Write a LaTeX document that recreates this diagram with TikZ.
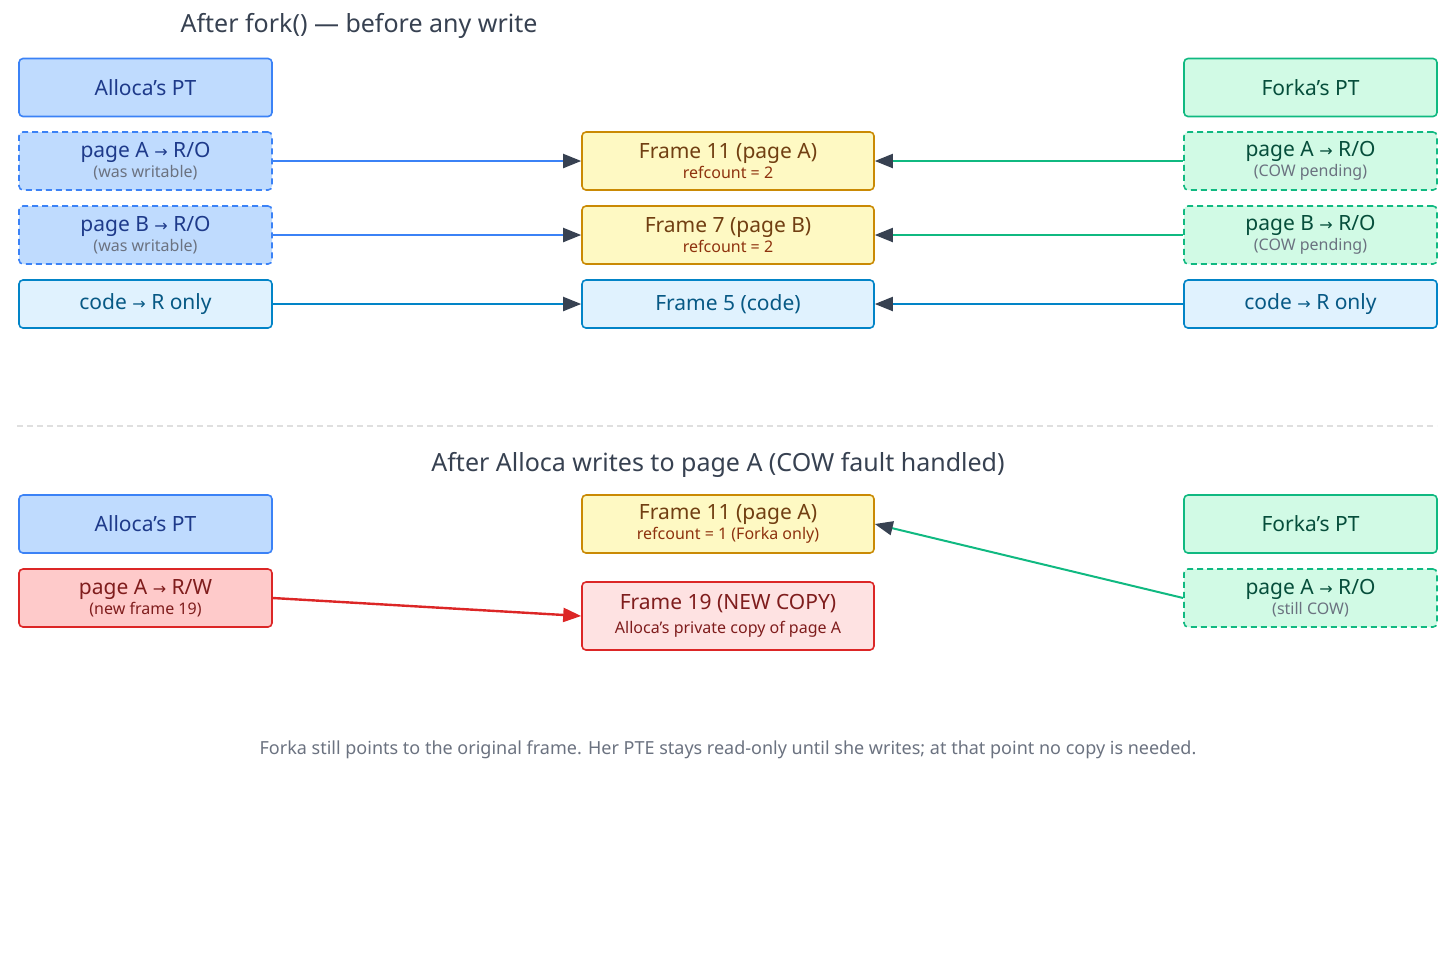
\documentclass[tikz,border=0pt]{standalone}
\usepackage{fontspec}
\setmainfont{Noto Sans}
\newfontfamily\djsans{DejaVu Sans}
\usetikzlibrary{arrows.meta}
\definecolor{bF}{HTML}{BFDBFE}\definecolor{bB}{HTML}{3B82F6}\definecolor{bT}{HTML}{1E3A8A}
\definecolor{gF}{HTML}{D1FAE5}\definecolor{gB}{HTML}{10B981}\definecolor{gT}{HTML}{064E3B}
\definecolor{yF}{HTML}{FEF9C3}\definecolor{yB}{HTML}{CA8A04}\definecolor{yT}{HTML}{713F12}
\definecolor{cF}{HTML}{E0F2FE}\definecolor{cB}{HTML}{0284C7}\definecolor{cT}{HTML}{075985}
\definecolor{rF}{HTML}{FECACA}\definecolor{rF2}{HTML}{FEE2E2}\definecolor{rB}{HTML}{DC2626}\definecolor{rT}{HTML}{7F1D1D}
\definecolor{sub}{HTML}{6B7280}\definecolor{dark}{HTML}{374151}\definecolor{ttl}{HTML}{374151}
\newcommand{\myarr}{{\djsans\footnotesize →}}
\newcommand{\smf}{\fontsize{8}{9}\selectfont}
\begin{document}
\begin{tikzpicture}[x=0.5pt,y=-0.5pt,
 box/.style={draw,rounded corners=2pt,line width=0.8pt,minimum width=126.5pt,minimum height=29pt,align=center,inner sep=0pt,font=\fontsize{10.5}{12}\selectfont},
 mid/.style={box,minimum width=146pt},
 blue/.style={fill=bF,draw=bB,text=bT},
 green/.style={fill=gF,draw=gB,text=gT},
 yel/.style={fill=yF,draw=yB,text=yT},
 cod/.style={fill=cF,draw=cB,text=cT,minimum height=24pt},
 red/.style={fill=rF,draw=rB,text=rT},
 dsh/.style={dash pattern=on 3pt off 2pt},
 hdr/.style={font=\bfseries\fontsize{10.5}{12}\selectfont},
 ttl/.style={text=ttl,font=\bfseries\fontsize{12.5}{14}\selectfont},
 con/.style={line width=1pt,-{Triangle[length=9pt,width=7pt,color=dark]}}]
\useasboundingbox (0,0) rectangle (1456,971);
\node[ttl] (t1) at (359,26) {After fork() — before any write};
\node[box,blue,hdr] (ah) at (145.5,87.5) {Alloca's PT};
\node[box,green,hdr] (fh) at (1310.5,87.5) {Forka's PT};
\node[box,blue,dsh] (aa) at (145.5,161) {page A \myarr{} R/O\\[-2pt]{\smf\color{sub}(was writable)}};
\node[box,blue,dsh] (ab) at (145.5,235) {page B \myarr{} R/O\\[-2pt]{\smf\color{sub}(was writable)}};
\node[box,cod] (ac) at (145.5,304) {code \myarr{} R only};
\node[mid,yel] (m11) at (728,161) {Frame 11 (page A)\\[-2pt]{\smf\color{yT!80!red}refcount = 2}};
\node[mid,yel] (m7) at (728,235) {Frame 7 (page B)\\[-2pt]{\smf\color{yT!80!red}refcount = 2}};
\node[mid,cod] (m5) at (728,304) {Frame 5 (code)};
\node[box,green,dsh] (fa) at (1310.5,161) {page A \myarr{} R/O\\[-2pt]{\smf\color{sub}(COW pending)}};
\node[box,green,dsh] (fb) at (1310.5,235) {page B \myarr{} R/O\\[-2pt]{\smf\color{sub}(COW pending)}};
\node[box,cod] (fc) at (1310.5,304) {code \myarr{} R only};
\draw[con,bB] (aa) -- (m11); \draw[con,bB] (ab) -- (m7); \draw[con,cB] (ac) -- (m5);
\draw[con,gB] (fa) -- (m11); \draw[con,gB] (fb) -- (m7); \draw[con,cB] (fc) -- (m5);
\draw[gray!25,dash pattern=on 3pt off 2pt,line width=0.6pt] (17,426) -- (1437,426);
\node[ttl] (t2) at (718,465) {After Alloca writes to page A (COW fault handled)};
\node[box,blue,hdr] (ah2) at (145.5,524) {Alloca's PT};
\node[box,green,hdr] (fh2) at (1310.5,524) {Forka's PT};
\node[box,red] (ra) at (145.5,598) {page A \myarr{} R/W\\[-2pt]{\smf(new frame 19)}};
\node[mid,yel] (n11) at (728,524) {Frame 11 (page A)\\[-2pt]{\smf\color{yT!80!red}refcount = 1 (Forka only)}};
\node[mid,fill=rF2,draw=rB,text=rT,minimum height=34pt] (n19) at (728,616) {\textbf{Frame 19 (NEW COPY)}\\[0pt]{\smf Alloca's private copy of page A}};
\node[box,green,dsh] (fa2) at (1310.5,598) {page A \myarr{} R/O\\[-2pt]{\smf\color{sub}(still COW)}};
\draw[line width=1.2pt,rB,-{Triangle[length=9pt,width=7pt]}] (ra.east) -- (n19.west);
\draw[con,gB] (fa2.west) -- (n11.east);
\node[text=sub,font=\fontsize{9}{11}\selectfont] (ft) at (728,750) {Forka still points to the original frame. Her PTE stays read-only until she writes; at that point no copy is needed.};
\end{tikzpicture}
\end{document}
